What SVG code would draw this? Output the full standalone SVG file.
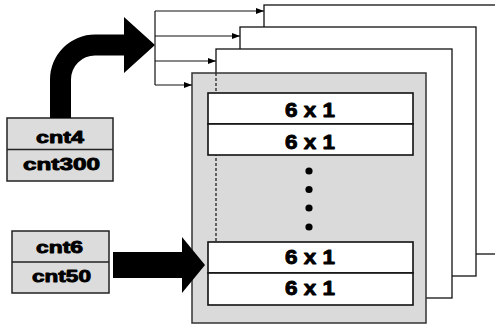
<svg xmlns="http://www.w3.org/2000/svg" width="495" height="325" viewBox="0 0 495 325">
<style>
.frame{fill:#fff;stroke:#111;stroke-width:1.3}
.front{fill:#dadada;stroke:#333;stroke-width:1.5}
.cell{fill:#fff;stroke:#111;stroke-width:1.6}
.lbox{fill:#dcdcdc;stroke:#222;stroke-width:1.5}
.conn{fill:none;stroke:#111;stroke-width:1.2}
.big{fill:#000}
.t{font-family:"Liberation Sans",Arial,sans-serif;font-weight:bold;fill:#000;stroke:#000;stroke-width:0.9;stroke-linejoin:round}
.t6{font-size:20px}
.tc{font-size:17px}
</style>
<defs>
<marker id="ah" viewBox="0 0 8 6" refX="8" refY="3" markerWidth="8" markerHeight="6" markerUnits="userSpaceOnUse" orient="auto">
<path d="M0,0 L8,3 L0,6 Z" fill="#000"/>
</marker>
</defs>

<g id="frame4"><rect class="frame" x="264" y="5" width="260" height="249"/></g>
<g id="frame3"><rect class="frame" x="240" y="27" width="236" height="249"/></g>
<g id="frame2"><rect class="frame" x="216" y="49" width="236" height="249"/></g>
<g id="frame1">
<rect class="front" x="192" y="73" width="234" height="250"/>
<line x1="216" y1="73" x2="216" y2="242" stroke="#222" stroke-width="1.3" stroke-dasharray="3,2"/>
<circle cx="309" cy="171" r="3.6" fill="#000"/>
<circle cx="309" cy="189.5" r="3.6" fill="#000"/>
<circle cx="309" cy="208" r="3.6" fill="#000"/>
<circle cx="309" cy="227" r="3.6" fill="#000"/>
</g>

<g id="cell1"><rect class="cell" x="208" y="93" width="205" height="31"/><text class="t t6" x="285" y="117.3" textLength="50" lengthAdjust="spacingAndGlyphs">6 x 1</text></g>
<g id="cell2"><rect class="cell" x="208" y="124" width="205" height="31"/><text class="t t6" x="285" y="149" textLength="50" lengthAdjust="spacingAndGlyphs">6 x 1</text></g>
<g id="cell3"><rect class="cell" x="208" y="242" width="205" height="31"/><text class="t t6" x="285" y="264" textLength="50" lengthAdjust="spacingAndGlyphs">6 x 1</text></g>
<g id="cell4"><rect class="cell" x="208" y="273" width="205" height="32"/><text class="t t6" x="285" y="295" textLength="50" lengthAdjust="spacingAndGlyphs">6 x 1</text></g>

<g id="counterA">
<rect class="lbox" x="7" y="118" width="106" height="63"/>
<line x1="7" y1="149.5" x2="113" y2="149.5" stroke="#222" stroke-width="1.3"/>
<text class="t tc" x="36" y="143.3" textLength="48" lengthAdjust="spacingAndGlyphs">cnt4</text>
<text class="t tc" x="23" y="170" textLength="77" lengthAdjust="spacingAndGlyphs">cnt300</text>
</g>
<g id="counterB">
<rect class="lbox" x="12" y="231" width="97" height="62"/>
<line x1="12" y1="262" x2="109" y2="262" stroke="#222" stroke-width="1.3"/>
<text class="t tc" x="36" y="253.3" textLength="47" lengthAdjust="spacingAndGlyphs">cnt6</text>
<text class="t tc" x="32" y="281.7" textLength="59" lengthAdjust="spacingAndGlyphs">cnt50</text>
</g>

<g id="connectors">
<path class="big" d="M50,118 L50,79.5 A45,45 0 0 1 95,34.5 L124,34.5 L124,17 L155,45 L124,73 L124,55.5 L95,55.5 A24,24 0 0 0 71,79.5 L71,118 Z"/>
<path class="big" d="M113,252 L182,252 L182,237 L205,265 L182,293 L182,278 L113,278 Z"/>
<line class="conn" x1="155" y1="11" x2="155" y2="85"/>
<line class="conn" x1="155" y1="11" x2="264" y2="11" marker-end="url(#ah)"/>
<line class="conn" x1="155" y1="36" x2="240" y2="36" marker-end="url(#ah)"/>
<line class="conn" x1="155" y1="61" x2="216" y2="61" marker-end="url(#ah)"/>
<line class="conn" x1="155" y1="85" x2="192" y2="85" marker-end="url(#ah)"/>
</g>
</svg>
